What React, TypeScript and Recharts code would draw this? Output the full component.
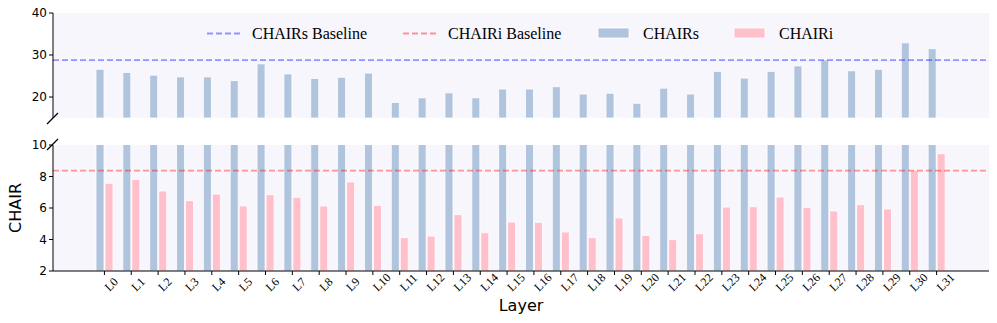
import { BarChart, Bar, XAxis, YAxis, ReferenceLine, CartesianGrid } from 'recharts';

const layers = [
  'L0', 'L1', 'L2', 'L3', 'L4', 'L5', 'L6', 'L7', 'L8', 'L9', 'L10', 'L11', 'L12', 'L13', 'L14', 'L15',
  'L16', 'L17', 'L18', 'L19', 'L20', 'L21', 'L22', 'L23', 'L24', 'L25', 'L26', 'L27', 'L28', 'L29', 'L30', 'L31',
];

const chairS = [
  26.6, 25.85, 25.2, 24.8, 24.8, 23.9, 27.9, 25.5, 24.4, 24.7, 25.7, 18.7, 19.8, 21.0, 19.8, 21.9,
  21.9, 22.45, 20.7, 20.9, 18.5, 22.1, 20.7, 26.1, 24.5, 26.1, 27.4, 28.8, 26.25, 26.6, 32.9, 31.5,
];

const chairI = [
  7.57, 7.82, 7.08, 6.47, 6.89, 6.13, 6.85, 6.68, 6.13, 7.65, 6.17, 4.12, 4.22, 5.58, 4.43, 5.11,
  5.09, 4.48, 4.12, 5.37, 4.26, 3.99, 4.37, 6.06, 6.08, 6.7, 6.04, 5.81, 6.21, 5.94, 8.39, 9.45,
];

const chairSBaseline = 28.8;
const chairIBaseline = 8.37;
const topTicks = [20, 30, 40];
const bottomTicks = [2, 4, 6, 8, 10];

const data = layers.map((layer, i) => ({ layer, chairS: chairS[i], chairI: chairI[i] }));

const BLUE = '#b0c4de';
const PINK = '#ffc0cb';
const BG = '#f8f6fd';
const SANS = 'DejaVu Sans';
const SERIF = 'Liberation Serif';

const yTick = { fontSize: 12, fill: '#000', fontFamily: SANS };
const xPadding = { left: 38, right: 39 };

// rotated layer names, starting just right of the tick and rising to the right
const LayerTick = ({ x, y, payload }: any) => {
  const ax = x + 5;
  const ay = y + 15;
  return (
    <text x={ax} y={ay} transform={`rotate(-45 ${ax} ${ay})`} textAnchor="start" fontFamily={SERIF} fontSize={12} fill="#000">
      {payload.value}
    </text>
  );
};

function Bars() {
  return [
    <Bar key="s" dataKey="chairS" fill={BLUE} stroke="#fff" strokeWidth={0.8} isAnimationActive={false} />,
    <Bar key="i" dataKey="chairI" fill={PINK} stroke="#fff" strokeWidth={0.8} isAnimationActive={false} />,
  ];
}

export default function App() {
  return (
    <div style={{ position: 'absolute', left: 0, top: 0, width: 997, height: 323, background: '#fff' }}>
      {/* upper panel: CHAIRs range */}
      <div style={{ position: 'absolute', left: 0, top: 0 }}>
        <BarChart width={997} height={131} data={data} margin={{ top: 13, right: 8, bottom: 13, left: 0 }} barSize={8} barGap={1}>
          <CartesianGrid fill={BG} horizontal={false} vertical={false} />
          <XAxis dataKey="layer" hide padding={xPadding} />
          <YAxis width={53} domain={[15, 40]} ticks={topTicks} allowDataOverflow tick={yTick}
            tickSize={4} tickMargin={2} axisLine={{ stroke: '#000' }} tickLine={{ stroke: '#000' }} />
          {Bars()}
          <ReferenceLine y={chairSBaseline} stroke="#0000ff" strokeOpacity={0.4} strokeWidth={1.8} strokeDasharray="6 3" />
        </BarChart>
      </div>

      {/* lower panel: CHAIRi range */}
      <div style={{ position: 'absolute', left: 0, top: 132 }}>
        <BarChart width={997} height={191} data={data} margin={{ top: 13, right: 8, bottom: 12, left: 0 }} barSize={8} barGap={1}>
          <CartesianGrid fill={BG} horizontal={false} vertical={false} />
          <XAxis dataKey="layer" padding={xPadding} height={40} interval={0} tick={<LayerTick />}
            tickSize={4} axisLine={{ stroke: '#000' }} tickLine={{ stroke: '#000' }} />
          <YAxis width={53} domain={[2, 10]} ticks={bottomTicks} allowDataOverflow tick={yTick}
            tickSize={4} tickMargin={2} axisLine={{ stroke: '#000' }} tickLine={{ stroke: '#000' }} />
          {Bars()}
          <ReferenceLine y={chairIBaseline} stroke="#ff0000" strokeOpacity={0.4} strokeWidth={1.8} strokeDasharray="6 3" />
        </BarChart>
      </div>

      {/* break marks, legend, axis titles */}
      <svg width={997} height={323} style={{ position: 'absolute', left: 0, top: 0, pointerEvents: 'none' }}>
        <line x1={47} y1={124} x2={58} y2={113} stroke="#000" strokeWidth={1.3} />
        <line x1={47} y1={150} x2={58} y2={139} stroke="#000" strokeWidth={1.3} />

        <line x1={207} y1={33.5} x2={240} y2={33.5} stroke="#0000ff" strokeOpacity={0.4} strokeWidth={1.8} strokeDasharray="6 3" />
        <text x={252} y={39} fontFamily={SERIF} fontSize={16}>CHAIRs Baseline</text>
        <line x1={403} y1={33.5} x2={436} y2={33.5} stroke="#ff0000" strokeOpacity={0.4} strokeWidth={1.8} strokeDasharray="6 3" />
        <text x={448} y={39} fontFamily={SERIF} fontSize={16}>CHAIRi Baseline</text>
        <rect x={598} y={28} width={31} height={10} fill={BLUE} stroke="#fff" strokeWidth={0.8} />
        <text x={643} y={39} fontFamily={SERIF} fontSize={16}>CHAIRs</text>
        <rect x={734} y={28} width={31} height={10} fill={PINK} stroke="#fff" strokeWidth={0.8} />
        <text x={779} y={39} fontFamily={SERIF} fontSize={16}>CHAIRi</text>

        <text x={21} y={208} transform="rotate(-90 21 208)" textAnchor="middle" fontFamily={SANS} fontSize={16}>CHAIR</text>
        <text x={521} y={311} textAnchor="middle" fontFamily={SANS} fontSize={16}>Layer</text>
      </svg>
    </div>
  );
}
